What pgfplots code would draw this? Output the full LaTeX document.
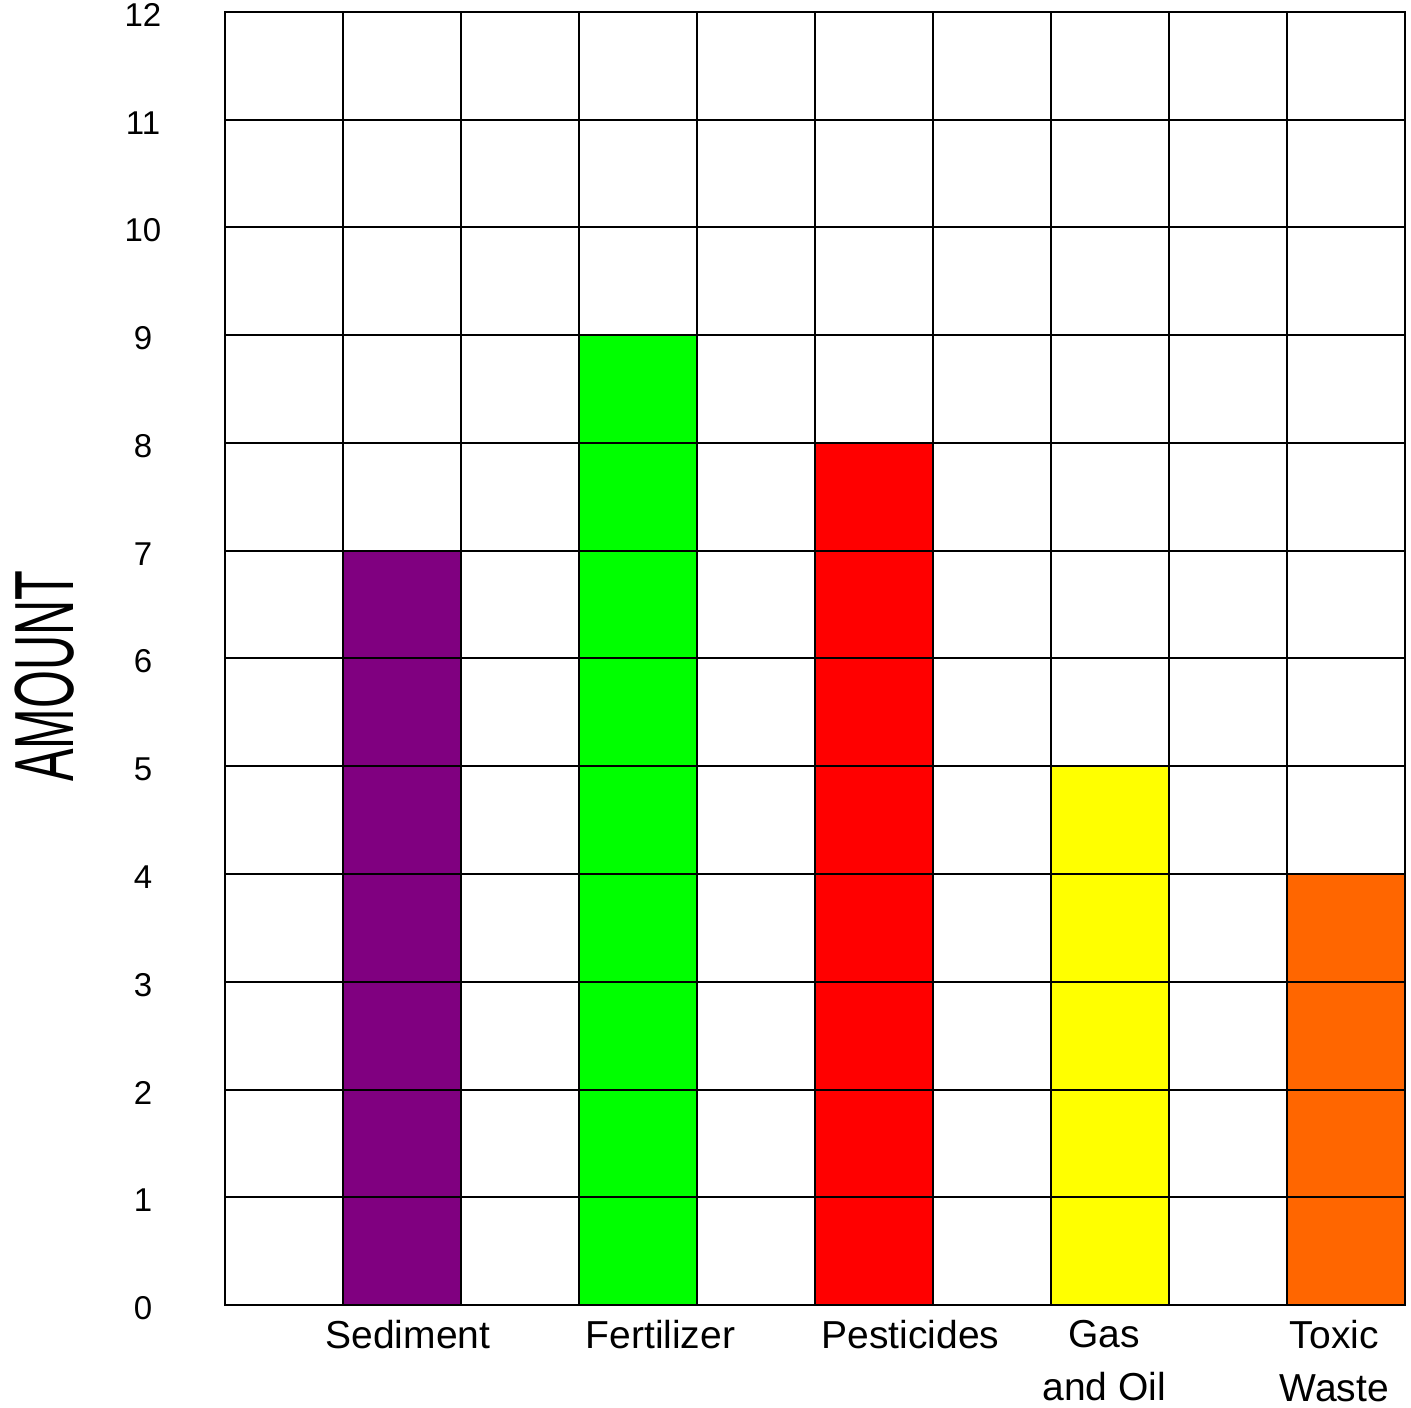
\documentclass[border=0pt]{standalone}
\usepackage{fontspec}
\setmainfont{Liberation Sans}
\usepackage{graphicx}
\usepackage{pgfplots}
\pgfplotsset{compat=1.18}
\definecolor{cSed}{HTML}{800080}
\definecolor{cFer}{HTML}{00FF00}
\definecolor{cPes}{HTML}{FF0000}
\definecolor{cGas}{HTML}{FFFF00}
\definecolor{cTox}{HTML}{FF6600}
\begin{document}
\begin{tikzpicture}
\useasboundingbox (-112.5pt,-51pt) rectangle (593pt,652.5pt);
\begin{axis}[
    scale only axis,
    width=590pt, height=646.5pt,
    xmin=0, xmax=10, ymin=0, ymax=12,
    xtick={0,...,10}, xticklabels={},
    ytick={0,...,12},
    grid=major,
    major grid style={black, line width=1pt},
    axis line style={black, line width=1pt},
    major tick length=0pt,
    axis on top,
    /pgf/number format/assume math mode=true,
    yticklabel style={anchor=center, xshift=-41pt, yshift=-1.5pt, font=\fontsize{16.5}{16.5}\selectfont},
    extra x ticks={1.55,3.69,5.81,7.45,9.4},
    extra x tick labels={Sediment,Fertilizer,Pesticides,{Gas\\and Oil},{Toxic\\Waste}},
    extra x tick style={grid=none, tick label style={align=center, anchor=north, yshift=-4pt,
        font=\fontsize{19.5}{26.5}\selectfont}},
    ylabel={\scalebox{0.58}[1]{\fontsize{42}{42}\selectfont AMOUNT}},
    ylabel style={at={(axis description cs:-0.1525,0.4865)}, anchor=center},
]
\addplot[ybar, bar width=1, bar shift=0, fill=cSed, draw=black] coordinates {(1.5,7)};
\addplot[ybar, bar width=1, bar shift=0, fill=cFer, draw=black] coordinates {(3.5,9)};
\addplot[ybar, bar width=1, bar shift=0, fill=cPes, draw=black] coordinates {(5.5,8)};
\addplot[ybar, bar width=1, bar shift=0, fill=cGas, draw=black] coordinates {(7.5,5)};
\addplot[ybar, bar width=1, bar shift=0, fill=cTox, draw=black] coordinates {(9.5,4)};
\end{axis}
\end{tikzpicture}
\end{document}
